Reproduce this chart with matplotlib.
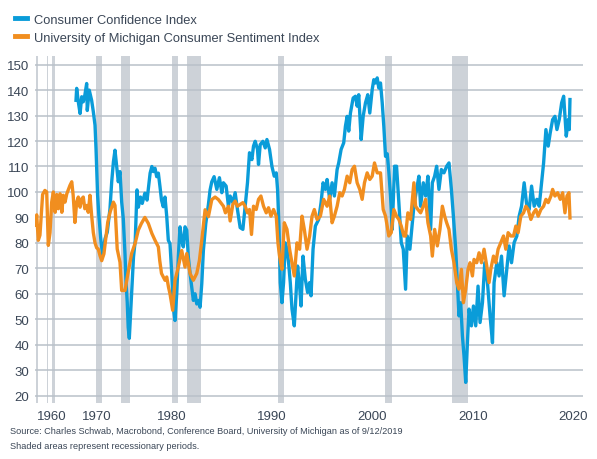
import numpy as np
import matplotlib
matplotlib.use("Agg")
import matplotlib.pyplot as plt
from matplotlib.lines import Line2D

plt.rcParams['font.family'] = ['Liberation Sans', 'DejaVu Sans']

# Conference Board Consumer Confidence Index (year, value)
cci_year = [1967.0, 1967.1, 1967.34, 1967.6, 1967.84, 1968.07, 1968.3, 1968.57, 1968.66, 1968.95,
            1969.3, 1969.55, 1969.8, 1969.95, 1970.2, 1970.4, 1970.7, 1971.0, 1971.37, 1971.73,
            1972.16, 1972.43, 1972.7, 1972.95, 1973.2, 1973.47, 1973.74, 1974.0, 1974.23, 1974.48,
            1974.6, 1974.8, 1974.94, 1975.1, 1975.4, 1975.6, 1975.8, 1976.0, 1976.15, 1976.4,
            1976.6, 1976.9, 1977.15, 1977.5, 1977.7, 1977.87, 1978.06, 1978.25, 1978.44, 1978.63,
            1978.8, 1979.0, 1979.2, 1979.4, 1979.58, 1979.77, 1979.97, 1980.13, 1980.3, 1980.47,
            1980.63, 1980.8, 1980.97, 1981.13, 1981.3, 1981.47, 1981.63, 1981.8, 1981.97, 1982.13,
            1982.3, 1982.47, 1982.63, 1982.8, 1982.97, 1983.13, 1983.37, 1983.63, 1983.8, 1983.97,
            1984.2, 1984.47, 1984.73, 1984.97, 1985.13, 1985.4, 1985.63, 1985.8, 1986.07, 1986.3,
            1986.53, 1986.8, 1987.07, 1987.3, 1987.53, 1987.73, 1987.97, 1988.13, 1988.3, 1988.53,
            1988.63, 1988.8, 1989.07, 1989.3, 1989.47, 1989.73, 1989.97, 1990.2, 1990.4, 1990.53,
            1990.67, 1990.8, 1990.97, 1991.13, 1991.3, 1991.47, 1991.63, 1991.8, 1991.97, 1992.2,
            1992.4, 1992.53, 1992.73, 1992.87, 1993.07, 1993.3, 1993.53, 1993.73, 1993.87, 1994.07,
            1994.3, 1994.63, 1994.87, 1995.07, 1995.3, 1995.47, 1995.73, 1995.97, 1996.2, 1996.47,
            1996.63, 1996.87, 1997.13, 1997.3, 1997.47, 1997.63, 1997.8, 1998.07, 1998.3, 1998.47,
            1998.63, 1998.87, 1999.07, 1999.3, 1999.53, 1999.73, 1999.97, 2000.13, 2000.3, 2000.47,
            2000.63, 2000.8, 2000.97, 2001.13, 2001.3, 2001.47, 2001.63, 2001.8, 2001.97, 2002.2,
            2002.4, 2002.63, 2002.87, 2003.07, 2003.3, 2003.47, 2003.73, 2003.97, 2004.13, 2004.4,
            2004.63, 2004.8, 2005.07, 2005.3, 2005.53, 2005.8, 2005.97, 2006.2, 2006.4, 2006.63,
            2006.87, 2007.13, 2007.4, 2007.63, 2007.87, 2008.07, 2008.3, 2008.47, 2008.63, 2008.8,
            2008.97, 2009.13, 2009.3, 2009.47, 2009.63, 2009.87, 2010.07, 2010.3, 2010.53, 2010.73,
            2010.97, 2011.2, 2011.47, 2011.73, 2011.97, 2012.13, 2012.4, 2012.63, 2012.87, 2013.13,
            2013.4, 2013.63, 2013.87, 2014.13, 2014.4, 2014.63, 2014.87, 2015.13, 2015.4, 2015.63,
            2015.87, 2016.13, 2016.4, 2016.63, 2016.87, 2017.07, 2017.3, 2017.53, 2017.73, 2017.97,
            2018.2, 2018.4, 2018.63, 2018.87, 2019.07, 2019.2, 2019.33, 2019.53, 2019.63, 2019.7]
cci_value = [136, 140.7, 135.4, 130.8, 137.4, 135.4, 138, 142.6, 132, 140,
             136, 131.5, 126.2, 117, 98.7, 90.8, 81.6, 75, 81.6, 84.2,
             93.4, 104, 111.8, 116.4, 110.5, 104, 108, 96, 89.5, 75.5,
             66, 56.7, 46.8, 42.5, 61.3, 74.5, 81, 100.8, 94, 98,
             95.5, 99.5, 96.8, 107.4, 110, 108, 109.3, 106, 107.4, 102,
             96.8, 94.2, 98, 90.3, 81, 79.7, 68, 54.7, 49.5, 60,
             74.5, 86.3, 81, 78.4, 86.3, 85, 74.5, 68, 62.6, 57.4,
             60, 56, 57.4, 54.7, 64, 77, 87.6, 95, 100.8, 104,
             106, 101, 105.6, 99.7, 103.6, 102.3, 94.4, 98.4, 95.8, 99.7,
             93.1, 86, 85.3, 94.4, 103.6, 115.4, 112.7, 118, 119.9, 116.7,
             110.8, 118.6, 119.9, 117.3, 120.6, 116.7, 110, 106.2, 107.5, 101,
             86.6, 64.4, 56.5, 64.4, 80, 77.5, 72.2, 64.4, 54, 47.4,
             61.8, 70.9, 63, 55.2, 74.8, 65.7, 60.5, 64.4, 59.2, 77.5,
             86.6, 89.2, 95.8, 103.6, 101, 104.9, 97.1, 103.6, 98.4, 108.8,
             111.4, 116.7, 119.3, 125.8, 129.7, 123.9, 131, 136.9, 137.6, 133.7,
             138.2, 120.6, 129.7, 135, 138.2, 131, 140.2, 144.1, 142.8, 144.8,
             140.8, 142.8, 135, 125.8, 114, 115, 108, 98.4, 85.3, 110.1,
             110.1, 95.8, 80.1, 77.5, 61.8, 82.7, 77.5, 87.9, 94.4, 101,
             106.2, 94.4, 103.6, 98.4, 106.2, 85.3, 103.6, 106.2, 110.1, 101,
             108.8, 107.5, 110.1, 111.4, 101, 90.5, 77.5, 64.4, 51.3, 56.5,
             43.5, 35.6, 25.2, 40.8, 54, 47.4, 55.2, 47.4, 63, 48.7,
             56.5, 72.2, 64.4, 51.3, 40.8, 64.4, 72.2, 67, 74.8, 59.2,
             69.6, 78.8, 72.2, 80.1, 82.7, 90.5, 94.4, 103.6, 94.4, 93.1,
             102.3, 94.4, 97.1, 94.4, 103.6, 111.4, 124.5, 118, 123.2, 128.4,
             129.7, 124.5, 128.4, 135, 137.6, 129.7, 121.9, 128.4, 124.5, 136.3]

# University of Michigan Consumer Sentiment Index (year, value)
umich_year = [1952.8, 1953.68, 1954.3, 1954.95, 1956.0, 1956.9, 1957.6, 1958.37, 1959.2, 1960.0,
              1960.6, 1961.1, 1961.55, 1962.0, 1962.5, 1963.0, 1963.4, 1963.9, 1964.4, 1965.3,
              1965.8, 1966.2, 1966.7, 1967.1, 1967.34, 1967.6, 1967.84, 1968.07, 1968.3, 1968.6,
              1968.8, 1969.06, 1969.3, 1969.55, 1969.8, 1970.06, 1970.3, 1970.58, 1970.85, 1971.2,
              1971.5, 1971.8, 1972.16, 1972.7, 1972.95, 1973.3, 1973.74, 1974.0, 1974.48, 1974.9,
              1975.4, 1975.8, 1976.15, 1976.5, 1976.9, 1977.3, 1977.7, 1978.06, 1978.44, 1978.6,
              1978.8, 1979.2, 1979.4, 1979.6, 1979.77, 1980.07, 1980.3, 1980.63, 1980.97, 1981.3,
              1981.47, 1981.8, 1982.13, 1982.47, 1982.73, 1982.97, 1983.3, 1983.63, 1983.97, 1984.3,
              1984.63, 1985.13, 1985.33, 1985.63, 1985.8, 1986.07, 1986.3, 1986.53, 1986.8, 1987.07,
              1987.3, 1987.53, 1987.73, 1987.93, 1988.13, 1988.4, 1988.63, 1988.87, 1989.13, 1989.4,
              1989.63, 1989.87, 1990.13, 1990.4, 1990.57, 1990.73, 1990.97, 1991.2, 1991.47, 1991.73,
              1991.97, 1992.2, 1992.47, 1992.73, 1992.97, 1993.2, 1993.47, 1993.73, 1993.97, 1994.2,
              1994.47, 1994.8, 1995.13, 1995.47, 1995.73, 1995.97, 1996.2, 1996.47, 1996.73, 1996.97,
              1997.2, 1997.47, 1997.73, 1997.97, 1998.2, 1998.47, 1998.73, 1998.97, 1999.2, 1999.47,
              1999.73, 1999.97, 2000.2, 2000.47, 2000.73, 2000.8, 2001.07, 2001.3, 2001.63, 2001.87,
              2002.13, 2002.4, 2002.63, 2002.87, 2003.13, 2003.3, 2003.53, 2003.8, 2004.13, 2004.3,
              2004.53, 2004.8, 2005.07, 2005.3, 2005.53, 2005.8, 2005.97, 2006.2, 2006.47, 2006.73,
              2006.97, 2007.2, 2007.4, 2007.63, 2007.87, 2008.13, 2008.4, 2008.63, 2008.87, 2009.07,
              2009.3, 2009.53, 2009.73, 2009.97, 2010.13, 2010.4, 2010.63, 2010.87, 2011.13, 2011.4,
              2011.63, 2011.8, 2012.07, 2012.3, 2012.53, 2012.8, 2013.07, 2013.3, 2013.53, 2013.8,
              2014.07, 2014.3, 2014.53, 2014.8, 2015.07, 2015.3, 2015.53, 2015.8, 2016.07, 2016.3,
              2016.53, 2016.8, 2017.07, 2017.3, 2017.53, 2017.8, 2017.97, 2018.2, 2018.47, 2018.73,
              2018.97, 2019.2, 2019.4, 2019.6, 2019.7]
umich_value = [87, 91, 81, 83, 99, 100.6, 100, 79, 84, 96,
               100, 92, 99, 93.4, 99.3, 92, 98.7, 96, 99.3, 102.6,
               104, 98.7, 88, 96, 98, 94, 97.3, 98, 93.4, 94.7,
               92, 98.7, 90.8, 84, 80, 78, 77.6, 75, 73, 75.7,
               82, 88, 92, 96, 94.7, 77.6, 72.4, 61.3, 61.3, 68,
               76, 80, 85, 87.6, 90, 87.6, 83.7, 81, 78.4, 73,
               68, 65.3, 66.6, 62.6, 60, 53.5, 65.3, 70.5, 77, 70.5,
               75.8, 68, 65.3, 68, 73, 81, 93, 90.3, 97, 98,
               97, 94.4, 91.8, 94.4, 88.6, 95.1, 96.4, 94.4, 95.1, 95.8,
               94.4, 91.8, 93.1, 83.3, 94.4, 93.1, 97.1, 98.4, 94.4, 91.8,
               93.8, 90.5, 93.1, 90.5, 80, 74.8, 69.6, 87.9, 85.3, 77.5,
               72.2, 67, 80, 77.5, 90.5, 85.3, 77.5, 82.7, 90.5, 93.1,
               89.2, 90.5, 97.1, 94.4, 98.4, 87.9, 90.5, 94.4, 99.7, 98.4,
               101, 106.2, 103.6, 108.8, 110.1, 103.6, 101, 97.1, 103.6, 107.5,
               104.9, 106.2, 111.4, 107.5, 107.5, 107.5, 93.1, 90.5, 82.7, 84,
               93.1, 90.5, 89.2, 86.6, 82.7, 82.7, 91.8, 89.2, 103.6, 94.4,
               93.1, 91.8, 94.4, 97.1, 87.9, 82.7, 74.8, 85.3, 78.8, 85.3,
               94.4, 90.5, 87.9, 85.3, 77.5, 72.2, 64.4, 61.8, 69.6, 56.5,
               61.8, 69.6, 72.2, 67, 73.5, 72.2, 76.1, 72.2, 77.5, 70.9,
               64.4, 69.6, 74.8, 72.2, 77.5, 80.1, 82.7, 77.5, 84, 82.7,
               82.7, 86.6, 84, 90.5, 91.8, 94.4, 93.1, 89.2, 91.8, 93.1,
               90.5, 93.1, 94.4, 97.1, 95.8, 98.4, 101, 98.4, 99.7, 97.1,
               99.7, 91.8, 98.4, 99.7, 89.8]

# NBER recessions (start, end)
recessions = [(1953.5, 1954.35), (1957.6, 1958.3), (1960.3, 1961.1), (1969.95, 1970.9),
              (1973.9, 1975.2), (1980.0, 1980.55), (1981.5, 1982.9), (1990.55, 1991.2),
              (2001.2, 2001.9), (2007.95, 2009.5)]

x_ticks = [1960, 1970, 1980, 1990, 2000, 2010, 2020]
y_ticks = list(range(20, 151, 10))

# axis is spaced by observation, so early (quarterly / bimonthly) years are squeezed
knot_yr = np.array([1952.8, 1953.6, 1957.6, 1960.3, 1967.0, 1969.9, 1973.9, 1975.2, 1980.0, 2021.0])
knot_pos = np.array([35, 36.5, 46.7, 52.3, 76, 95.7, 121, 130, 172, 583.0])


def _interp(x, xp, fp):
    x = np.asarray(x, dtype=float)
    out = np.interp(x, xp, fp)
    lo = x < xp[0]
    hi = x > xp[-1]
    s0 = (fp[1] - fp[0]) / (xp[1] - xp[0])
    s1 = (fp[-1] - fp[-2]) / (xp[-1] - xp[-2])
    out = np.where(lo, fp[0] + (x - xp[0]) * s0, out)
    out = np.where(hi, fp[-1] + (x - xp[-1]) * s1, out)
    return out


def fwd(x):
    return _interp(x, knot_yr, knot_pos)


def inv(p):
    return _interp(p, knot_pos, knot_yr)


blue = '#0a9cd9'
orange = '#f18e1f'
grid_col = '#b9c1c9'
text_col = '#3a4656'

fig = plt.figure(figsize=(5.97, 4.6), dpi=100)
ax = fig.add_axes([35 / 597, 1 - 404 / 460, 548 / 597, 347 / 460])
ax.set_xscale('function', functions=(fwd, inv))

for a, b in recessions:
    ax.axvspan(a, b, color='#cdd2d8', lw=0, zorder=0)

ax.plot(cci_year, cci_value, color=blue, lw=2.4, zorder=3, solid_joinstyle='round')
ax.plot(umich_year, umich_value, color=orange, lw=2.4, zorder=4, solid_joinstyle='round')

ax.set_xlim(1952.8, 2021.0)
ax.set_ylim(17.1, 153.4)
ax.set_xticks(x_ticks)
ax.set_xticklabels([str(t) for t in x_ticks])
ax.set_yticks(y_ticks)
ax.yaxis.grid(True, color=grid_col, lw=1.1, zorder=1)
ax.set_axisbelow(True)
ax.tick_params(length=0, labelsize=9.5, colors=text_col)
ax.tick_params(axis='y', pad=4)
ax.tick_params(axis='x', pad=5)
for s in ax.spines.values():
    s.set_visible(False)

handles = [Line2D([], [], color=blue, lw=3.5), Line2D([], [], color=orange, lw=3.5)]
fig.legend(handles, ['Consumer Confidence Index', 'University of Michigan Consumer Sentiment Index'],
           loc='upper left', bbox_to_anchor=(0.0, 1.0), frameon=False, fontsize=9.3,
           handlelength=0.95, handletextpad=0.5, labelspacing=0.45, borderaxespad=0.75,
           labelcolor=text_col)

fig.text(0.017, 0.061, 'Source: Charles Schwab, Macrobond, Conference Board, University of Michigan as of 9/12/2019',
         fontsize=6.6, color=text_col, va='center')
fig.text(0.017, 0.030, 'Shaded areas represent recessionary periods.',
         fontsize=6.6, color=text_col, va='center')

fig.savefig('out.png', dpi=100)
